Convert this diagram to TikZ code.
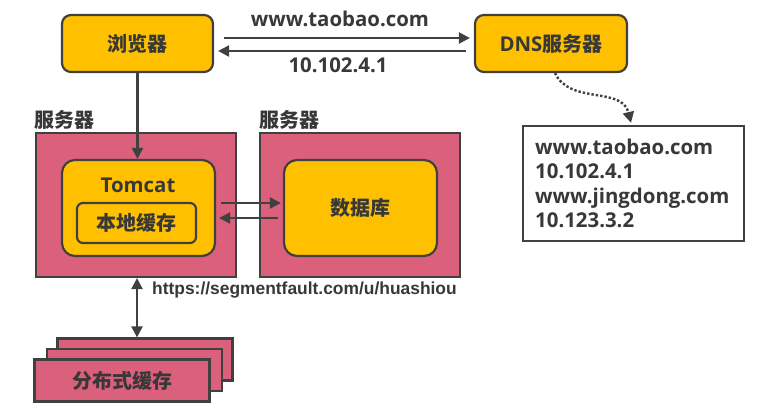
\documentclass[tikz,border=0pt]{standalone}
\usepackage{fontspec}
\setmainfont{Open Sans}
\newfontfamily\cjk{Noto Sans CJK SC}
\newfontfamily\urlf{Liberation Sans}
\usetikzlibrary{arrows.meta}
\definecolor{ycol}{HTML}{FFC000}
\definecolor{pcol}{HTML}{DA607C}
\definecolor{ecol}{HTML}{404040}
\definecolor{tcol}{HTML}{383838}
\begin{document}
\begin{tikzpicture}[x=1pt,y=-1pt,
  ybox/.style={draw=ecol, line width=2.2pt, fill=ycol, rounded corners=9pt, inner sep=0pt, text=tcol},
  pbox/.style={draw=ecol, line width=2.2pt, fill=pcol, inner sep=0pt, text=tcol},
  wbox/.style={draw=ecol, line width=2.2pt, fill=white, inner sep=0pt},
  tip/.tip={Triangle[length=11pt,width=11pt]},
  arr/.style={draw=ecol, line width=2.2pt, -tip},
  darr/.style={draw=ecol, line width=2.2pt, tip-tip},
  cjkt/.style={font=\cjk\bfseries\fontsize{20}{24}\selectfont, text=tcol},
  latt/.style={font=\bfseries\fontsize{20.4}{24}\selectfont, text=tcol},
  urlt/.style={font=\urlf\bfseries\fontsize{17.4}{20}\selectfont, text=tcol}]
\useasboundingbox (0,0) rectangle (766,414);
\fill[white] (0,0) rectangle (766,414);

% top row
\node[ybox, minimum width=151pt, minimum height=57pt, cjkt] (browser) at (137.5,43.5) {浏览器};
\node[ybox, minimum width=152pt, minimum height=57pt] (dns) at (551,43.5) {{\bfseries\fontsize{20.4}{24}\selectfont DNS}{\cjk\bfseries\fontsize{20}{24}\selectfont 服务器}};
\node[latt] (q) at (340,19) {www.taobao.com};
\node[latt] (a) at (338,65) {10.102.4.1};
\draw[arr] ([xshift=10pt,yshift=5.5pt]browser.east) -- ([xshift=-4pt,yshift=5.5pt]dns.west);
\draw[arr] ([xshift=-8pt,yshift=-7.5pt]dns.west) -- ([xshift=4pt,yshift=-7.5pt]browser.east);

% DNS table
\node[wbox, minimum width=221pt, minimum height=115pt] (table) at (633.5,183.5) {};
\node[latt, anchor=north west, align=left, inner sep=0pt, font=\bfseries\fontsize{20.4}{24.5}\selectfont] (tabtext) at (535,138.5)
  {www.taobao.com\\10.102.4.1\\www.jingdong.com\\10.123.3.2};
\coordinate (dnsout) at (555,73);
\draw[ecol, line width=2.4pt, dotted, -tip]
  (dnsout) .. controls (570,105) and (622,86) .. ([yshift=2pt]table.north -| 631,0);

% servers
\node[pbox, minimum width=200pt, minimum height=144pt] (srv1) at (136,205) {};
\node[pbox, minimum width=200pt, minimum height=144pt] (srv2) at (360,205) {};
\node[cjkt, anchor=south west, inner sep=1pt] (srv1lab) at ([xshift=-2pt,yshift=1pt]srv1.north west) {服务器};
\node[cjkt, anchor=south west, inner sep=1pt] (srv2lab) at ([xshift=-1pt,yshift=1pt]srv2.north west) {服务器};

\node[ybox, minimum width=153pt, minimum height=96pt, rounded corners=13pt] (tomcat) at (138.5,208) {};
\node[latt] (tomcatlab) at (138,185) {Tomcat};
\node[ybox, minimum width=119pt, minimum height=40pt, rounded corners=6pt, cjkt] (local) at (136.5,223) {本地缓存};
\node[ybox, minimum width=153pt, minimum height=96pt, rounded corners=13pt, cjkt] (db) at (360.5,208) {数据库};

\draw[arr] (browser.south) -- (browser.south |- tomcat.north);
\draw[arr] ([xshift=5pt,yshift=5pt]tomcat.east) -- ([xshift=-2pt,yshift=5pt]db.west);
\draw[arr] ([xshift=-5pt,yshift=-10pt]db.west) -- ([xshift=3pt,yshift=-10pt]tomcat.east);

% distributed cache stack
\node[pbox, minimum width=175pt, minimum height=42pt] (c3) at (145,359.5) {};
\node[pbox, minimum width=175pt, minimum height=42pt] (c2) at (134.5,370) {};
\node[pbox, minimum width=175pt, minimum height=42pt, cjkt] (c1) at (122,380.5) {分布式缓存};

\draw[darr] ([xshift=1pt]srv1.south) -- ([xshift=1pt]srv1.south |- c3.north);
\node[urlt, anchor=west, inner sep=0pt] (url) at (152,290) {https://segmentfault.com/u/huashiou};
\end{tikzpicture}
\end{document}
